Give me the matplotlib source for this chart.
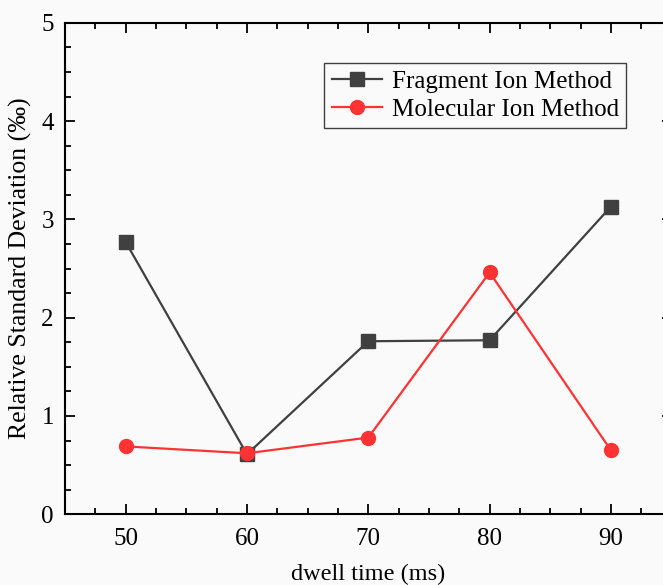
import numpy as np
from matplotlib import pyplot as plt
from matplotlib.ticker import MultipleLocator

plt.rcParams['font.family'] = ['Liberation Serif', 'DejaVu Serif']

dwell = [50, 60, 70, 80, 90]
fragment = [2.77, 0.61, 1.76, 1.77, 3.13]
molecular = [0.69, 0.62, 0.78, 2.46, 0.65]

fig = plt.figure(figsize=(6.63, 5.85), dpi=100, facecolor='#fafafa')
ax = fig.add_axes([0.098, 0.121, 0.915, 0.840])
ax.set_facecolor('#fafafa')

ax.plot(dwell, fragment, '-s', color='#404040', lw=1.6, ms=9.5, label='Fragment Ion Method')
ax.plot(dwell, molecular, '-o', color='#ff3333', lw=1.6, ms=10, label='Molecular Ion Method')

ax.set_xlim(45, 95)
ax.set_ylim(0, 5)
ax.xaxis.set_major_locator(MultipleLocator(10))
ax.xaxis.set_minor_locator(MultipleLocator(2.5))
ax.yaxis.set_major_locator(MultipleLocator(1))
ax.yaxis.set_minor_locator(MultipleLocator(0.25))
ax.tick_params(which='both', direction='in', top=True, right=True, width=1.3, labelsize=18)
ax.tick_params(which='major', length=7)
ax.tick_params(which='minor', length=4)
ax.tick_params(axis='x', pad=10)
ax.tick_params(axis='y', pad=8)
for s in ax.spines.values():
    s.set_linewidth(1.5)

ax.set_xlabel('dwell time (ms)', fontsize=17.5, labelpad=10)
ax.set_ylabel('Relative Standard Deviation (‰)', fontsize=18.5, labelpad=7)

leg = ax.legend(loc='upper left', bbox_to_anchor=(0.427, 0.918), fontsize=18,
                frameon=True, fancybox=False, edgecolor='#404040', facecolor='#fafafa',
                framealpha=1, handlelength=2.0, borderpad=0.3, labelspacing=0.2,
                handletextpad=0.4, borderaxespad=0)
leg.get_frame().set_linewidth(1.0)

plt.savefig('out.png', dpi=100, facecolor=fig.get_facecolor())
